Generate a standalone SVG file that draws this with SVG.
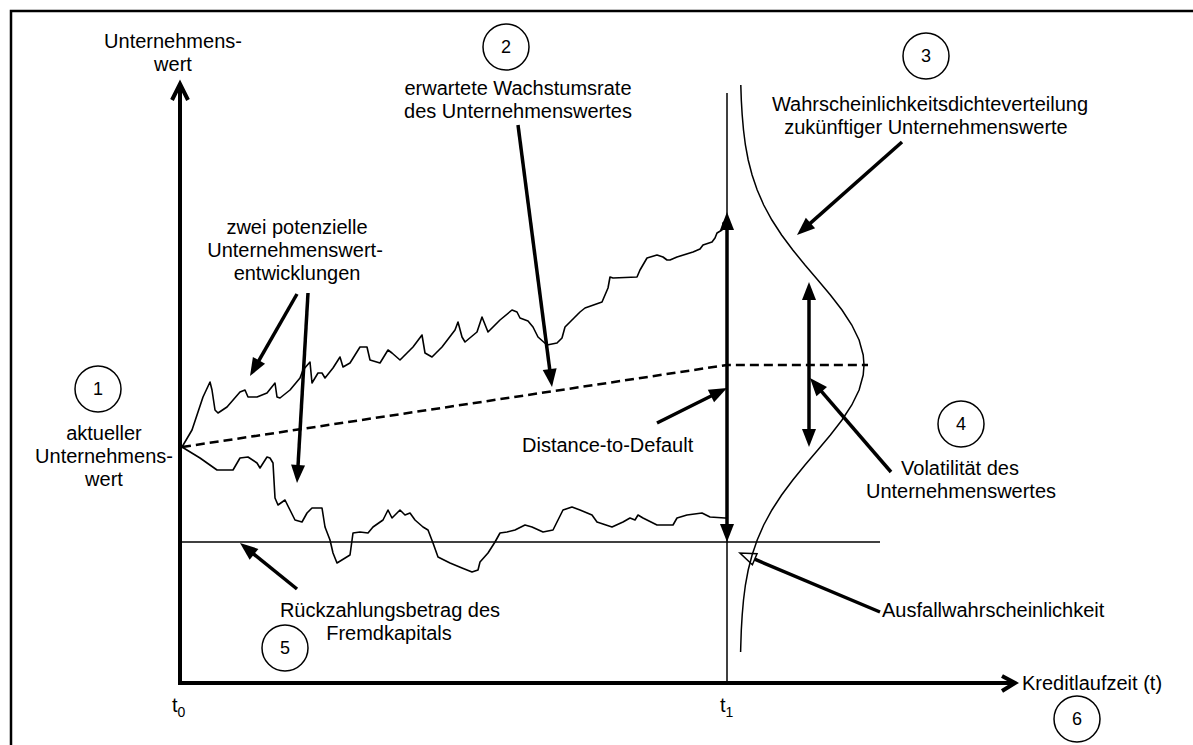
<svg xmlns="http://www.w3.org/2000/svg" width="1193" height="745" viewBox="0 0 1193 745">
<style>
text{font-family:"Liberation Sans",Arial,sans-serif;font-size:20px;fill:#000}
.m{text-anchor:middle}
.num{font-size:18px;text-anchor:middle}
.c{fill:none;stroke:#000;stroke-width:1.5}
.thin{fill:none;stroke:#000;stroke-width:1.5}
.path{fill:none;stroke:#000;stroke-width:1.6;stroke-linejoin:round}
.axis{fill:none;stroke:#000;stroke-width:4}
.arr{fill:none;stroke:#000;stroke-width:3.5;marker-end:url(#ah)}
.dbl{fill:none;stroke:#000;stroke-width:3.5;marker-start:url(#ah);marker-end:url(#ah)}
.dash{fill:none;stroke:#000;stroke-width:2.5;stroke-dasharray:9 5}
</style>
<defs>
<marker id="ah" markerUnits="userSpaceOnUse" markerWidth="18" markerHeight="14" refX="8" refY="7" orient="auto-start-reverse" overflow="visible"><path d="M0,0 L18,7 L0,14 z" fill="#000"/></marker>
<marker id="hollow" markerUnits="userSpaceOnUse" markerWidth="16" markerHeight="12" refX="0" refY="6" orient="auto" overflow="visible"><path d="M0,0 L16,6 L0,12 z" fill="none" stroke="#000" stroke-width="1.5"/></marker>
</defs>
<rect width="1193" height="745" fill="#fff"/>
<path d="M11,760 L11,11 L1200,11" fill="none" stroke="#000" stroke-width="2.5"/>

<g id="chart">
<path class="axis" d="M180,84 L180,683 L1015,683" stroke-linejoin="miter"/>
<path class="axis" d="M172,100 L180,84 L188,100"/>
<path class="axis" d="M1002,676 L1015,683 L1002,691"/>
<line class="thin" x1="727" y1="93" x2="727" y2="683"/>
<line class="thin" x1="180" y1="542" x2="880" y2="542"/>
<path class="dash" d="M182,447 L727,365 L868,365"/>
<polyline class="path" points="182,447 192,430 203,397 210,382 212,390 215,410 218,413 227,407 240,392 245,390 248,397 257,397 267,393 275,383 277,397 280,398 290,390 300,378 303,370 310,362 312,383 318,373 322,373 325,378 333,368 340,357 343,367 350,363 360,347 367,347 370,360 380,363 388,350 392,353 400,360 413,347 422,335 425,353 432,357 442,347 455,330 458,322 462,337 465,342 477,332 482,317 488,332 500,320 512,310 517,312 520,318 528,321 533,327 538,337 547,345 557,343 562,338 565,327 570,322 580,312 585,308 602,302 608,288 610,277 613,278 637,277 640,270 647,258 657,255 663,257 667,260 670,260 677,257 693,252 700,249 703,245 712,242 715,238 717,233 722,230 723,223 727,220"/>
<polyline class="path" points="182,447 200,458 217,470 233,470 240,458 248,457 257,463 260,468 267,457 270,458 273,463 275,498 278,505 285,500 290,510 295,520 302,522 307,513 312,508 322,508 325,527 330,540 333,553 337,563 350,555 353,533 360,532 368,533 373,527 383,520 388,510 392,518 400,510 405,515 410,513 415,520 423,527 428,530 433,543 438,557 450,563 462,568 472,572 478,570 480,562 488,553 495,542 500,533 507,532 515,530 525,525 532,527 543,532 553,530 558,520 563,510 572,507 580,510 592,515 597,522 612,527 623,522 630,518 635,520 638,515 643,518 657,525 673,525 677,518 687,515 702,513 710,517 725,518 727,518"/>
<polyline class="thin" points="740.8,85 741.3,100 742.2,115 743.5,130 745.4,145 748.2,160 752.1,175 757.2,190 763.7,205 771.9,220 781.6,235 792.8,250 805,265 817.8,280 830.4,295 842,310 851.8,325 859.1,340 863.2,355 864,365 863.2,375 859.1,390 851.8,405 842,420 830.4,435 817.8,450 805,465 792.8,480 781.6,495 771.9,510 763.7,525 757.2,540 752.1,555 748.2,570 745.4,585 743.5,600 742.2,615 741.3,630 740.8,645 740.6,652"/>
</g>

<g id="connectors">
<line class="arr" x1="518" y1="125" x2="550.7" y2="377.1"/>
<line class="arr" x1="297" y1="294" x2="255" y2="367.3"/>
<line class="arr" x1="308" y1="293" x2="297.6" y2="473"/>
<line class="arr" x1="297" y1="589" x2="247.8" y2="549.3"/>
<line class="arr" x1="902" y1="142" x2="804.5" y2="228.4"/>
<line class="arr" x1="891" y1="472" x2="816.5" y2="385.6"/>
<line class="arr" x1="657" y1="423" x2="718.1" y2="392.5"/>
<line class="dbl" x1="727" y1="222" x2="727" y2="532"/>
<line class="dbl" x1="809" y1="292" x2="809" y2="437"/>
<line x1="880" y1="612" x2="754.7" y2="559.2" stroke="#000" stroke-width="3.5" marker-end="url(#hollow)"/>
</g>

<g id="label-yaxis"><text class="m" x="173" y="48">Unternehmens-</text><text class="m" x="173" y="71">wert</text></g>
<g id="node-1"><circle class="c" cx="98" cy="389" r="23"/><text class="num" x="98" y="395">1</text>
<text class="m" x="104" y="440">aktueller</text><text class="m" x="104" y="463">Unternehmens-</text><text class="m" x="104" y="486">wert</text></g>
<g id="node-2"><circle class="c" cx="506" cy="47" r="23"/><text class="num" x="506" y="53">2</text>
<text class="m" x="518" y="95">erwartete Wachstumsrate</text><text class="m" x="518" y="118">des Unternehmenswertes</text></g>
<g id="node-3"><circle class="c" cx="926" cy="56" r="23"/><text class="num" x="926" y="62">3</text>
<text class="m" x="930" y="111">Wahrscheinlichkeitsdichteverteilung</text><text class="m" x="926" y="134">zukünftiger Unternehmenswerte</text></g>
<g id="node-4"><circle class="c" cx="961" cy="424" r="23"/><text class="num" x="961" y="430">4</text>
<text class="m" x="960" y="475">Volatilität des</text><text class="m" x="961" y="498">Unternehmenswertes</text></g>
<g id="node-5"><circle class="c" cx="285" cy="648" r="23"/><text class="num" x="285" y="654">5</text>
<text class="m" x="390" y="617">Rückzahlungsbetrag des</text><text class="m" x="389" y="640">Fremdkapitals</text></g>
<g id="node-6"><circle class="c" cx="1077" cy="719" r="23"/><text class="num" x="1077" y="725">6</text>
<text x="1022" y="690">Kreditlaufzeit (t)</text></g>
<g id="label-paths"><text class="m" x="297" y="234">zwei potenzielle</text><text class="m" x="295" y="257">Unternehmenswert-</text><text class="m" x="297" y="280">entwicklungen</text></g>
<g id="label-dtd"><text x="522" y="452">Distance-to-Default</text></g>
<g id="label-pd"><text x="882" y="617">Ausfallwahrscheinlichkeit</text></g>
<g id="label-t0"><text x="172" y="712">t<tspan font-size="14" dy="5">0</tspan></text></g>
<g id="label-t1"><text x="720" y="712">t<tspan font-size="14" dy="5">1</tspan></text></g>
</svg>
